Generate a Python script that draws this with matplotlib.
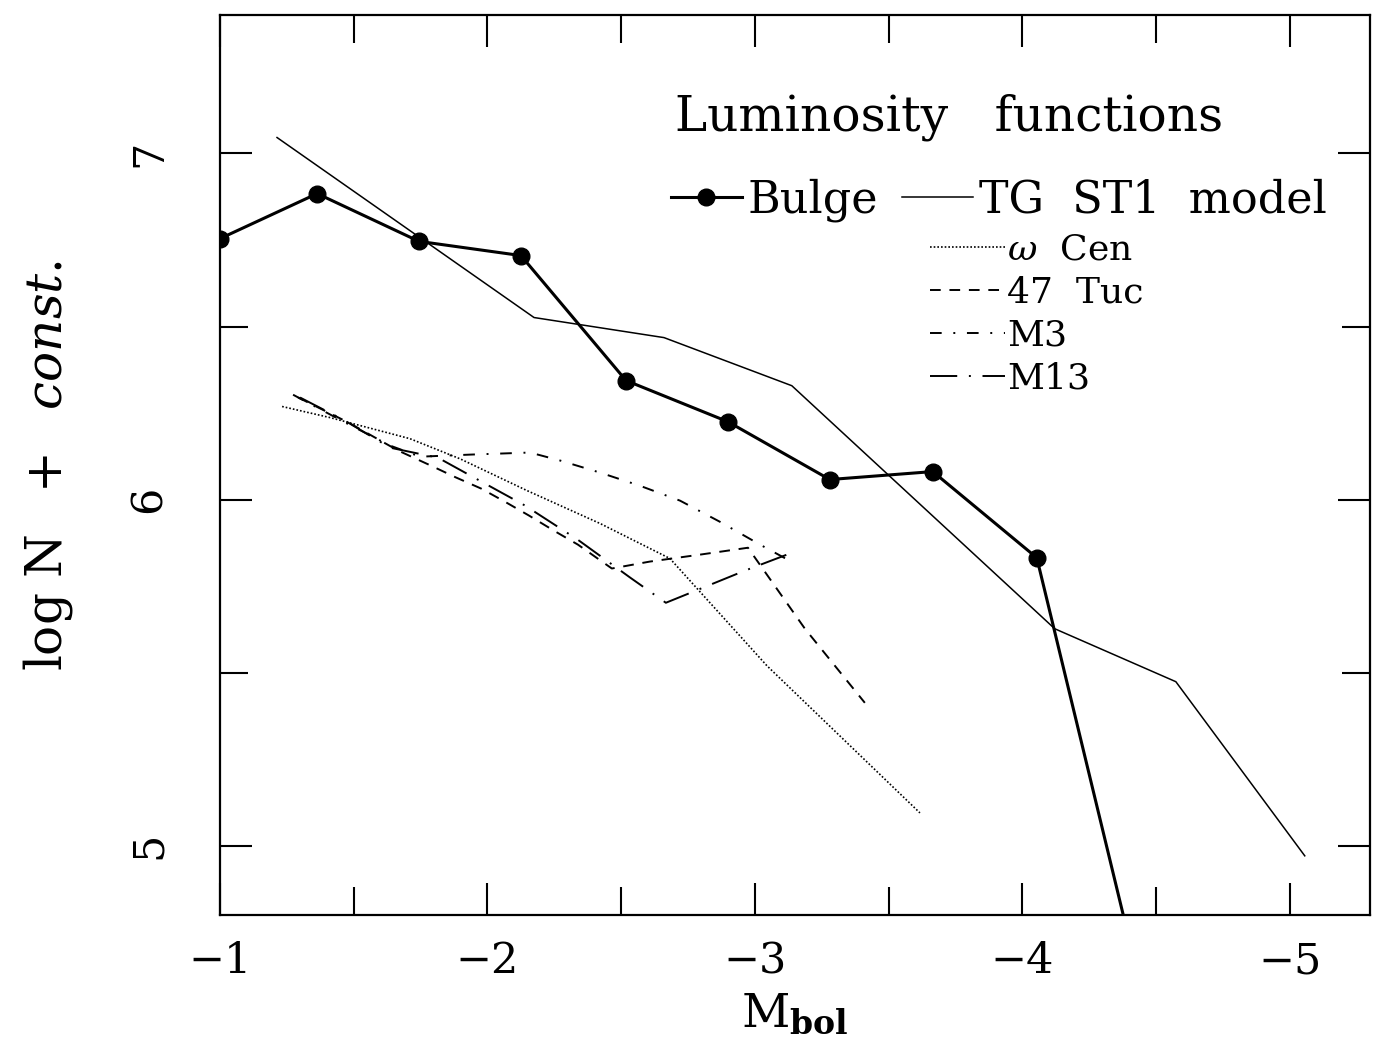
import matplotlib
matplotlib.use("Agg")
import matplotlib.pyplot as plt
from matplotlib.ticker import MultipleLocator, FixedLocator

# Bulge luminosity function (filled circles)
bulge_mbol = [-1.00, -1.363, -1.744, -2.125, -2.518, -2.899, -3.280, -3.665, -4.054, -4.44]
bulge_logn = [6.754, 6.884, 6.746, 6.705, 6.344, 6.225, 6.058, 6.081, 5.832, 4.60]

# TG ST1 model
tg_mbol = [-1.213, -2.174, -2.660, -3.138, -4.121, -4.574, -5.056]
tg_logn = [7.046, 6.526, 6.468, 6.329, 5.627, 5.474, 4.971]

# omega Cen
wcen_mbol = [-1.232, -1.411, -1.710, -1.897, -2.148, -2.421, -2.682, -3.045, -3.617]
wcen_logn = [6.269, 6.237, 6.176, 6.118, 6.026, 5.931, 5.830, 5.520, 5.095]

# 47 Tuc
tuc_mbol = [-1.292, -1.479, -1.665, -1.789, -1.882, -1.976, -2.065, -2.155,
            -2.249, -2.338, -2.465, -2.607, -2.794, -2.974, -3.187, -3.411]
tuc_logn = [6.295, 6.223, 6.142, 6.098, 6.064, 6.032, 5.994, 5.954,
            5.910, 5.870, 5.801, 5.821, 5.841, 5.861, 5.627, 5.413]

# M3
m3_mbol = [-1.273, -1.467, -1.636, -1.748, -1.935, -2.159, -2.271, -2.421,
           -2.570, -2.720, -2.869, -3.019, -3.150]
m3_logn = [6.303, 6.223, 6.156, 6.124, 6.130, 6.136, 6.113, 6.078,
           6.040, 5.997, 5.936, 5.870, 5.815]

# M13
m13_mbol = [-1.299, -1.467, -1.636, -1.815, -1.923, -2.140, -2.338, -2.533,
            -2.667, -2.750, -2.963, -3.150]
m13_logn = [6.295, 6.228, 6.150, 6.121, 6.075, 5.983, 5.884, 5.775,
            5.702, 5.728, 5.795, 5.850]

x_ticks = [-1, -2, -3, -4, -5]
x_ticklabels = ["\u22121", "\u22122", "\u22123", "\u22124", "\u22125"]
y_ticks = [5, 6, 7]

plt.rcParams["font.family"] = ["DejaVu Serif"]
plt.rcParams["mathtext.fontset"] = "dejavuserif"

fig = plt.figure(figsize=(13.78, 10.62), dpi=100)
ax = fig.add_axes([0.1597, 0.1384, 0.8345, 0.8475])

ax.plot(bulge_mbol, bulge_logn, color="black", lw=2.2, marker="o", ms=12,
        label="Bulge")
ax.plot(tg_mbol, tg_logn, color="black", lw=1.1, label="TG  ST1  model")
ax.plot(wcen_mbol, wcen_logn, color="black", lw=1.2,
        ls=(0, (1, 1.2)), label=r"$\omega$  Cen")
ax.plot(tuc_mbol, tuc_logn, color="black", lw=1.4,
        ls=(0, (5.5, 4.5)), label="47  Tuc")
ax.plot(m3_mbol, m3_logn, color="black", lw=1.4,
        ls=(0, (6, 6, 1, 6)), label="M3")
ax.plot(m13_mbol, m13_logn, color="black", lw=1.4,
        ls=(0, (14, 6, 1, 6)), label="M13")

ax.set_xlim(-1, -5.3)
ax.set_ylim(4.8, 7.4)

ax.xaxis.set_major_locator(FixedLocator(x_ticks))
ax.xaxis.set_minor_locator(MultipleLocator(0.5))
ax.yaxis.set_major_locator(FixedLocator(y_ticks))
ax.yaxis.set_minor_locator(MultipleLocator(0.5))
ax.set_xticklabels(x_ticklabels)

ax.tick_params(which="both", direction="in", top=True, right=True, width=1.5)
ax.tick_params(which="major", length=23)
ax.tick_params(which="minor", length=20)
ax.tick_params(axis="x", labelsize=31, pad=18)
ax.tick_params(axis="y", labelsize=31, pad=36, labelrotation=90)
for lab in ax.get_yticklabels():
    lab.set_va("center")

for sp in ax.spines.values():
    sp.set_linewidth(1.6)

ax.set_xlabel(r"$\mathrm{M}_{\mathbf{bol}}$", fontsize=34, labelpad=7)
ax.set_ylabel(r"$\mathrm{log\ N\ \ +\ \ }\mathit{const.}$", fontsize=36,
              labelpad=38)

ax.text(0.396, 0.872, "Luminosity   functions", transform=ax.transAxes,
        fontsize=35, va="baseline", ha="left")

h, l = ax.get_legend_handles_labels()
leg1 = ax.legend(h[:2], l[:2], loc="upper left", bbox_to_anchor=(0.392, 0.818),
                 ncol=2, frameon=False, fontsize=32, handlelength=1.6,
                 handletextpad=0.12, columnspacing=0.55, borderpad=0,
                 borderaxespad=0)
ax.add_artist(leg1)
ax.legend(h[2:], l[2:], loc="upper left", bbox_to_anchor=(0.617, 0.758),
          frameon=False, fontsize=26, handlelength=2.1, handletextpad=0.05,
          labelspacing=0.25, borderpad=0, borderaxespad=0)

fig.savefig("out.png", dpi=100)
